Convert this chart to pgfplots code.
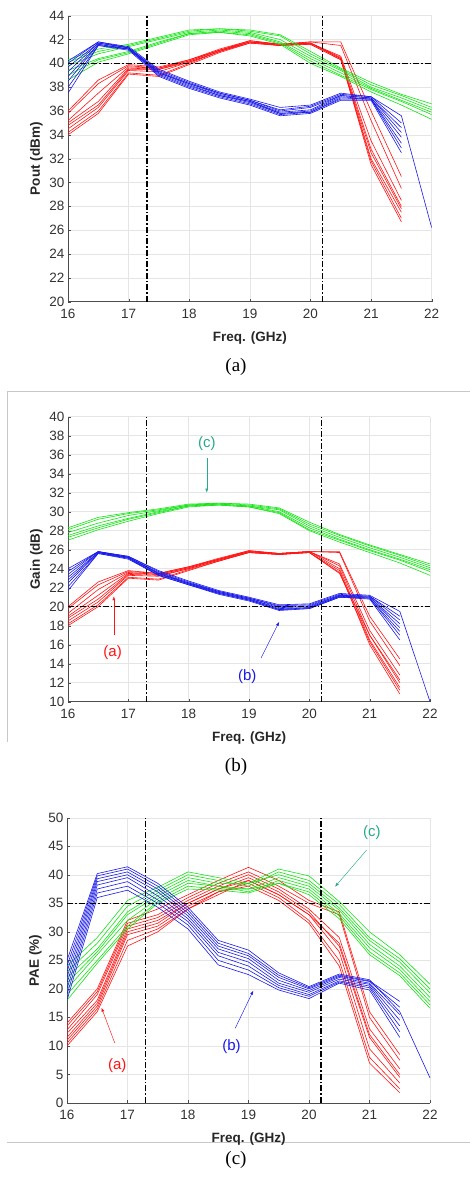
\documentclass[border=0pt]{standalone}
\usepackage{fontspec}
\setmainfont{Liberation Serif}
\newfontfamily\arial{Liberation Sans}
\usepackage{pgfplots}
\usepackage{pgfplotstable}
\pgfplotsset{compat=1.18}
\usetikzlibrary{arrows.meta}

\definecolor{cR}{RGB}{255,20,20}
\definecolor{cG}{RGB}{20,228,20}
\definecolor{cB}{RGB}{25,25,235}
\definecolor{cT}{RGB}{40,170,140}

\newcommand\tickfont{\arial\fontsize{13.5}{13.5}\selectfont}
\newcommand\labfont{\arial\bfseries\fontsize{13.5}{13.5}\selectfont}
\newcommand\annfont{\arial\fontsize{15}{15}\selectfont}

% ---------- Pout ----------
\pgfplotstableread{
f r1 r2 r3 r4 r5 r6 r7 r8
16 36.0 35.8 35.2 35.0 34.8 34.5 34.2 34.0
16.5 38.6 38.3 37.5 36.8 36.5 36.3 36.0 35.8
17 39.9 39.8 39.7 39.6 39.5 39.4 39.2 39.1
17.5 39.7 39.6 39.6 39.5 39.5 39.3 39.0 38.9
18 40.3 40.3 40.2 40.2 40.1 40.1 40.0 39.9
18.5 41.2 41.1 41.1 41.1 41.0 41.0 41.0 40.9
19 41.9 41.9 41.8 41.8 41.8 41.8 41.7 41.7
19.5 41.6 41.6 41.6 41.6 41.5 41.5 41.5 41.5
20 41.8 41.8 41.7 41.7 41.7 41.7 41.6 41.6
20.5 41.8 41.5 40.6 40.5 40.4 40.4 40.3 40.3
21 36.0 35.2 33.5 32.8 32.0 31.5 31.8 32.5
21.5 30.5 29.5 28.5 28.0 27.5 26.7 27.0 27.8
}\PoutRed
\pgfplotstableread{
f r1 r2 r3 r4 r5 r6
16 40.3 40.1 39.8 39.4 39.0 38.6
16.5 41.2 41.0 40.8 40.4 40.3 40.1
17 41.6 41.5 41.4 41.0 40.9 40.8
17.5 42.2 42.1 42.0 41.8 41.7 41.6
18 42.8 42.7 42.6 42.5 42.5 42.4
18.5 42.9 42.9 42.8 42.7 42.6 42.6
19 42.8 42.7 42.6 42.5 42.4 42.3
19.5 42.4 42.3 42.0 41.8 41.7 41.6
20 41.0 40.8 40.6 40.4 40.2 40.0
20.5 39.6 39.5 39.4 39.2 39.0 38.9
21 38.4 38.2 38.0 37.9 37.8 37.6
21.5 37.4 37.3 37.1 36.9 36.8 36.5
22 36.6 36.3 36.1 35.9 35.7 35.3
}\PoutGreen
\pgfplotstableread{
f r1 r2 r3 r4 r5 r6 r7 r8
16 40.2 40.0 39.7 39.3 38.9 38.5 38.0 37.5
16.5 41.8 41.8 41.7 41.7 41.6 41.6 41.5 41.5
17 41.4 41.3 41.3 41.3 41.2 41.2 41.2 41.1
17.5 39.5 39.4 39.3 39.2 39.2 39.1 39.0 38.9
18 38.5 38.4 38.3 38.3 38.2 38.1 38.0 37.9
18.5 37.6 37.5 37.5 37.4 37.3 37.3 37.2 37.1
19 37.0 36.9 36.9 36.8 36.8 36.7 36.6 36.5
19.5 36.3 36.1 36.0 35.9 35.8 35.8 35.7 35.6
20 36.5 36.4 36.3 36.1 36.0 35.9 35.9 35.8
20.5 37.5 37.4 37.3 37.3 37.2 37.1 37.0 36.9
21 37.2 37.2 37.1 37.1 37.0 37.0 37.0 36.9
21.5 35.6 35.0 34.6 34.2 33.8 33.3 32.9 32.5
22 26.2 nan nan nan nan nan nan nan
}\PoutBlue

% ---------- Gain ----------
\pgfplotstableread{
f r1 r2 r3 r4 r5 r6 r7 r8
16 20.0 19.8 19.3 19.0 18.8 18.5 18.2 18.0
16.5 22.6 22.3 21.8 21.2 20.8 20.5 20.2 20.0
17 23.8 23.7 23.6 23.5 23.4 23.3 23.1 23.0
17.5 23.5 23.5 23.4 23.4 23.3 23.2 22.9 22.8
18 24.2 24.2 24.1 24.1 24.0 24.0 23.9 23.8
18.5 25.1 25.0 25.0 25.0 24.9 24.9 24.8 24.8
19 25.9 25.9 25.8 25.8 25.8 25.7 25.7 25.7
19.5 25.6 25.6 25.6 25.6 25.5 25.5 25.5 25.5
20 25.8 25.8 25.8 25.8 25.8 25.7 25.7 25.7
20.5 25.8 25.7 24.5 24.3 24.0 23.8 23.6 23.5
21 19.0 18.5 17.5 17.0 16.5 16.0 16.3 17.0
21.5 14.5 13.8 12.8 12.0 11.5 10.8 11.2 12.3
}\GainRed
\pgfplotstableread{
f r1 r2 r3 r4 r5 r6
16 28.3 28.1 27.8 27.5 27.3 27.0
16.5 29.4 29.2 28.8 28.5 28.3 28.1
17 29.9 29.8 29.6 29.3 29.2 29.0
17.5 30.3 30.2 30.1 30.0 29.9 29.8
18 30.8 30.7 30.7 30.6 30.6 30.5
18.5 30.9 30.9 30.8 30.8 30.7 30.7
19 30.8 30.7 30.6 30.6 30.5 30.5
19.5 30.4 30.3 30.2 30.0 29.9 29.8
20 28.9 28.7 28.5 28.3 28.1 28.0
20.5 27.6 27.5 27.3 27.1 27.0 26.8
21 26.5 26.4 26.2 26.0 25.9 25.7
21.5 25.5 25.4 25.2 25.0 24.9 24.6
22 24.5 24.3 24.1 23.9 23.7 23.3
}\GainGreen
\pgfplotstableread{
f r1 r2 r3 r4 r5 r6 r7 r8
16 24.0 23.7 23.4 23.1 22.8 22.5 22.1 21.7
16.5 25.8 25.8 25.8 25.7 25.7 25.7 25.6 25.6
17 25.3 25.3 25.2 25.2 25.2 25.1 25.1 25.0
17.5 23.8 23.7 23.6 23.5 23.5 23.4 23.3 23.3
18 22.7 22.6 22.5 22.5 22.4 22.4 22.3 22.3
18.5 21.7 21.6 21.6 21.5 21.5 21.4 21.4 21.3
19 21.0 20.9 20.9 20.8 20.8 20.7 20.7 20.6
19.5 20.2 20.1 20.0 19.9 19.8 19.7 19.7 19.6
20 20.3 20.2 20.1 20.0 19.9 19.9 19.8 19.8
20.5 21.4 21.3 21.2 21.2 21.1 21.1 21.0 21.0
21 21.2 21.1 21.1 21.0 21.0 20.9 20.9 20.8
21.5 19.5 19.0 18.6 18.2 17.8 17.4 17.0 16.5
22 10.0 nan nan nan nan nan nan nan
}\GainBlue

% ---------- PAE ----------
\pgfplotstableread{
f r1 r2 r3 r4 r5 r6 r7 r8
16 14.0 13.5 12.8 12.2 11.5 11.0 10.5 10.0
16.5 20.0 19.5 19.0 18.0 17.5 17.0 16.5 16.0
17 32.0 31.5 31.0 30.5 30.0 29.5 28.5 27.5
17.5 34.0 33.0 32.5 32.0 31.5 31.0 30.5 30.0
18 36.5 36.0 35.5 35.0 35.0 34.5 34.0 34.0
18.5 39.0 38.5 38.0 37.5 37.5 37.0 37.0 36.5
19 41.3 40.5 40.0 39.5 39.0 38.5 38.0 39.0
19.5 39.0 38.0 37.5 37.0 36.5 36.0 35.5 36.5
20 35.5 35.0 34.0 33.5 33.0 32.0 31.5 33.0
20.5 33.5 33.0 29.0 27.5 26.5 25.0 24.0 28.0
21 16.0 15.0 13.0 11.5 9.5 8.0 7.0 12.0
21.5 8.5 7.5 6.0 4.5 3.5 2.5 1.8 5.0
}\PaeRed
\pgfplotstableread{
f r1 r2 r3 r4 r5 r6 r7
16 24.0 23.0 22.0 21.0 20.0 19.0 18.0
16.5 29.0 28.0 27.0 26.5 26.0 25.0 24.5
17 35.5 34.5 33.5 33.0 32.0 31.0 30.5
17.5 37.8 37.3 36.8 36.3 35.8 35.3 35.0
18 40.5 40.0 39.5 39.0 38.5 38.0 37.5
18.5 39.5 39.0 38.5 38.0 38.0 37.5 37.3
19 38.5 38.0 38.5 37.5 37.0 37.5 36.8
19.5 41.0 40.5 40.0 39.5 39.0 38.5 38.5
20 39.8 39.0 38.5 38.0 37.5 37.0 36.5
20.5 35.3 34.8 34.2 33.8 33.2 32.8 32.3
21 30.0 29.0 28.5 27.8 27.2 26.5 26.0
21.5 26.0 25.3 24.7 24.0 23.4 22.8 22.3
22 20.8 20.0 19.3 18.5 17.8 17.2 16.6
}\PaeGreen
\pgfplotstableread{
f r1 r2 r3 r4 r5 r6 r7 r8
16 25.0 24.0 23.0 22.0 21.0 20.0 19.0 18.0
16.5 40.2 39.8 39.3 38.8 38.2 37.5 36.8 36.0
17 41.4 41.0 40.5 40.0 39.5 38.8 38.0 37.3
17.5 38.5 38.0 37.5 37.0 36.3 35.6 35.0 34.3
18 34.3 33.8 33.3 32.8 32.3 31.8 31.2 30.5
18.5 28.5 28.0 27.5 27.0 26.4 25.8 25.0 24.2
19 26.8 26.2 25.8 25.3 24.7 24.0 23.3 22.5
19.5 22.8 22.4 22.0 21.5 21.0 20.6 20.2 19.8
20 20.4 20.2 20.0 19.7 19.4 19.0 18.7 18.3
20.5 22.6 22.4 22.2 22.0 21.7 21.4 21.2 21.0
21 21.6 21.4 21.3 21.0 20.8 20.5 20.2 19.8
21.5 16.0 17.8 16.8 15.5 14.5 13.5 12.5 11.5
22 4.4 nan nan nan nan nan nan nan
}\PaeBlue

\tikzset{ann/.style={line width=0.45pt, -{Latex[length=4pt,width=3pt]}}}

\pgfplotsset{
  base/.style={
    scale only axis,
    xmin=16, xmax=22, xtick={16,17,...,22},
    axis x line*=bottom, axis y line*=left,
    tick align=inside, major tick length=3pt,
    grid=major, major grid style={black!10, line width=0.4pt},
    tick style={black!70},
    tick label style={font=\tickfont, text=black!80},
    xticklabel style={yshift=-4pt},
    xlabel style={yshift=-6pt},
    /pgf/number format/assume math mode=true,
    label style={font=\labfont, text=black!85},
    axis line style={black!70, line width=0.5pt},
    unbounded coords=jump,
    clip=true,
  },
  rl/.style={cR, line width=0.6pt},
  gl/.style={cG, line width=0.6pt},
  bl/.style={cB, line width=0.6pt},
  ref/.style={black, line width=1.5pt, dash pattern=on 6pt off 2pt on 1.5pt off 2pt},
}

\begin{document}
\begin{tikzpicture}
\useasboundingbox (0pt,0pt) rectangle (470pt,1182pt);
\fill[white] (0pt,0pt) rectangle (470pt,1182pt);

% ===== (a) Pout =====
\begin{axis}[base, at={(68pt,880.3pt)}, anchor=south west,
  width=363.7pt, height=286pt,
  ymin=20, ymax=44, ytick={20,22,...,44},
  xlabel={Freq. (GHz)}, ylabel={Pout (dBm)}]
\pgfplotsinvokeforeach{1,...,8}{\addplot[rl] table[x=f,y=r#1]{\PoutRed};}
\pgfplotsinvokeforeach{1,...,6}{\addplot[gl] table[x=f,y=r#1]{\PoutGreen};}
\pgfplotsinvokeforeach{1,...,8}{\addplot[bl] table[x=f,y=r#1]{\PoutBlue};}
\addplot[ref] coordinates {(17.3,20) (17.3,44)};
\addplot[ref] coordinates {(20.2,20) (20.2,44)};
\addplot[ref] coordinates {(16,40) (22,40)};
\end{axis}
\node[font=\fontsize{19}{19}\selectfont] at (236pt,815pt) {(a)};

% frame lines
\draw[black!22, line width=0.8pt] (7pt,790.3pt) -- (470pt,790.3pt);
\draw[black!22, line width=0.8pt] (7pt,790.3pt) -- (7pt,440.3pt);
\draw[black!22, line width=0.8pt] (7pt,40pt) -- (470pt,40pt);

% ===== (b) Gain =====
\begin{axis}[base, at={(68pt,480.3pt)}, anchor=south west,
  width=362pt, height=285pt,
  ymin=10, ymax=40, ytick={10,12,...,40},
  xlabel={Freq. (GHz)}, ylabel={Gain (dB)}]
\pgfplotsinvokeforeach{1,...,8}{\addplot[rl] table[x=f,y=r#1]{\GainRed};}
\pgfplotsinvokeforeach{1,...,6}{\addplot[gl] table[x=f,y=r#1]{\GainGreen};}
\pgfplotsinvokeforeach{1,...,8}{\addplot[bl] table[x=f,y=r#1]{\GainBlue};}
\addplot[ref] coordinates {(17.3,10) (17.3,40)};
\addplot[ref] coordinates {(20.2,10) (20.2,40)};
\addplot[ref] coordinates {(16,20) (22,20)};
\node[font=\annfont, text=cT] at (axis cs:18.3,37.2) {(c)};
\draw[ann, cT] (axis cs:18.3,35.6) -- (axis cs:18.3,32.0);
\node[font=\annfont, text=cR] at (axis cs:16.74,15.2) {(a)};
\draw[ann, cR] (axis cs:16.76,17.0) -- (axis cs:16.76,21.1);
\node[font=\annfont, text=cB] at (axis cs:18.97,12.6) {(b)};
\draw[ann, cB] (axis cs:19.2,14.6) -- (axis cs:19.5,18.4);
\end{axis}
\node[font=\fontsize{19}{19}\selectfont] at (236pt,415pt) {(b)};

% ===== (c) PAE =====
\begin{axis}[base, at={(67pt,79pt)}, anchor=south west,
  width=363pt, height=285.3pt,
  ymin=0, ymax=50, ytick={0,5,...,50},
  xlabel={Freq. (GHz)}, ylabel={PAE (\%)}]
\pgfplotsinvokeforeach{1,...,8}{\addplot[rl] table[x=f,y=r#1]{\PaeRed};}
\pgfplotsinvokeforeach{1,...,7}{\addplot[gl] table[x=f,y=r#1]{\PaeGreen};}
\pgfplotsinvokeforeach{1,...,8}{\addplot[bl] table[x=f,y=r#1]{\PaeBlue};}
\addplot[ref] coordinates {(17.3,0) (17.3,50)};
\addplot[ref] coordinates {(20.2,0) (20.2,50)};
\addplot[ref] coordinates {(16,35) (22,35)};
\node[font=\annfont, text=cT] at (axis cs:21.04,47.3) {(c)};
\draw[ann, cT] (axis cs:20.95,44.3) -- (axis cs:20.43,37.9);
\node[font=\annfont, text=cR] at (axis cs:16.83,6.6) {(a)};
\draw[ann, cR] (axis cs:16.79,10.5) -- (axis cs:16.57,16.7);
\node[font=\annfont, text=cB] at (axis cs:18.72,9.9) {(b)};
\draw[ann, cB] (axis cs:18.78,13.1) -- (axis cs:19.08,19.7);
\end{axis}
\node[font=\fontsize{19}{19}\selectfont] at (236pt,22pt) {(c)};
\end{tikzpicture}
\end{document}
